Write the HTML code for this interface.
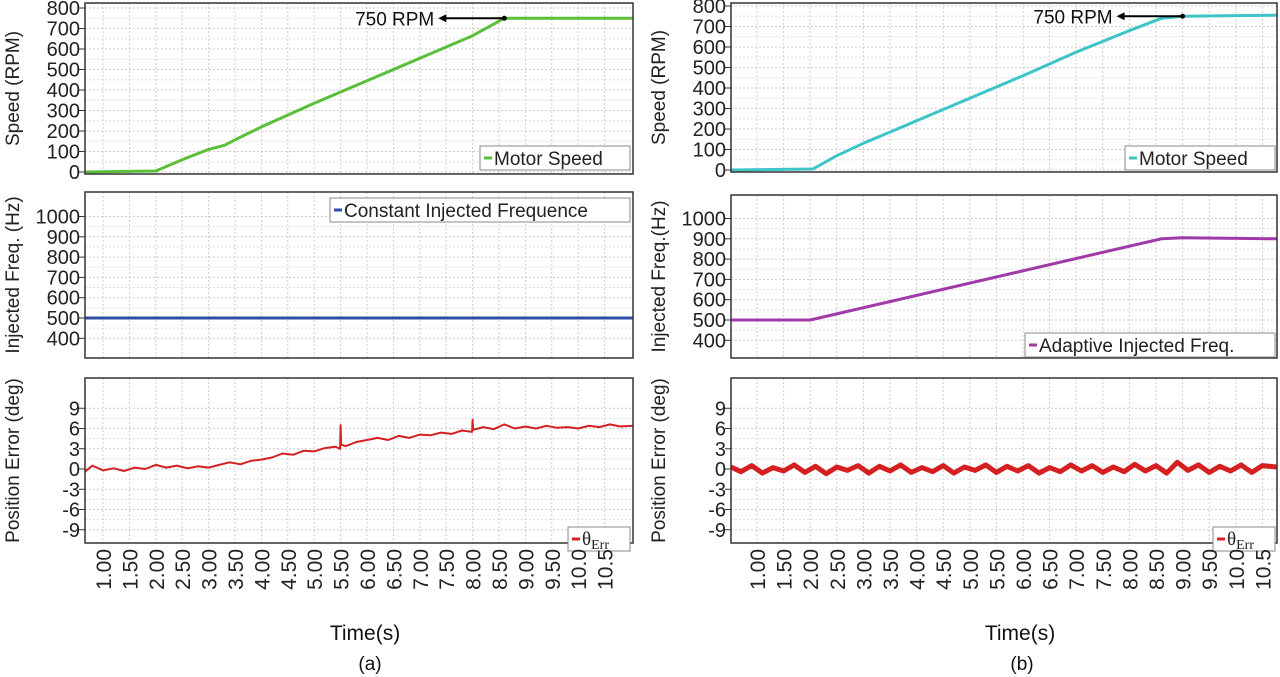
<!DOCTYPE html>
<html><head><meta charset="utf-8"><style>
body{margin:0;background:#fff;}
svg{display:block;font-family:"Liberation Sans",sans-serif;}
</style></head><body>
<svg id="c" width="1280" height="677" viewBox="0 0 1280 677"></svg>
<script>
const timeTicks=["1.00","1.50","2.00","2.50","3.00","3.50","4.00","4.50","5.00","5.50","6.00","6.50","7.00","7.50","8.00","8.50","9.00","9.50","10.0","10.5"];
const tickTimes=[1,1.5,2,2.5,3,3.5,4,4.5,5,5.5,6,6.5,7,7.5,8,8.5,9,9.5,10,10.5];
const speedTicks=[0,100,200,300,400,500,600,700,800];
const freqTicks=[400,500,600,700,800,900,1000];
const errTicks=[-9,-6,-3,0,3,6,9];
const speedA_t=[0.66,2.0,2.5,3.0,3.3,3.6,4.0,5.0,6.0,7.0,8.0,8.6,11.04];
const speedA_v=[0,5,60,110,130,170,220,335,445,555,665,750,750];
const speedB_t=[0.51,2.05,2.5,3.0,3.5,4.0,5.0,6.0,7.0,8.0,8.6,9.0,10.77];
const speedB_v=[0,5,70,130,185,240,350,460,575,680,740,750,755];
const freqA_t=[0.66,11.04];
const freqA_v=[500,500];
const freqB_t=[0.51,2.0,8.6,9.0,10.77];
const freqB_v=[500,500,900,905,900];
const errA_t=[0.66,0.8,1.0,1.2,1.4,1.6,1.8,2.0,2.2,2.4,2.6,2.8,3.0,3.2,3.4,3.6,3.8,4.0,4.2,4.4,4.6,4.8,5.0,5.2,5.4,5.49,5.5,5.51,5.6,5.8,6.0,6.2,6.4,6.6,6.8,7.0,7.2,7.4,7.6,7.8,7.99,8.0,8.01,8.2,8.4,8.6,8.8,9.0,9.2,9.4,9.6,9.8,10.0,10.2,10.4,10.6,10.8,11.04];
const errA_v=[-0.4,0.5,-0.2,0.1,-0.3,0.2,0,0.6,0.2,0.5,0.1,0.4,0.2,0.6,1.0,0.7,1.2,1.4,1.7,2.3,2.1,2.7,2.6,3.1,3.3,3.0,6.5,3.6,3.4,4.0,4.3,4.6,4.3,4.9,4.6,5.1,5.0,5.4,5.2,5.7,5.5,7.3,5.8,6.2,5.9,6.6,6.0,6.3,6.0,6.4,6.1,6.2,6.0,6.4,6.2,6.6,6.3,6.4];
const errB_t=[0.51,0.7,0.9,1.1,1.3,1.5,1.7,1.9,2.1,2.3,2.5,2.7,2.9,3.1,3.3,3.5,3.7,3.9,4.1,4.3,4.5,4.7,4.9,5.1,5.3,5.5,5.7,5.9,6.1,6.3,6.5,6.7,6.9,7.1,7.3,7.5,7.7,7.9,8.1,8.3,8.5,8.7,8.9,9.1,9.3,9.5,9.7,9.9,10.1,10.3,10.5,10.77];
const errB_v=[0.3,-0.4,0.5,-0.6,0.2,-0.3,0.6,-0.5,0.4,-0.7,0.3,-0.2,0.5,-0.6,0.4,-0.3,0.6,-0.5,0.2,-0.4,0.5,-0.6,0.3,-0.2,0.6,-0.5,0.4,-0.3,0.5,-0.6,0.2,-0.4,0.6,-0.3,0.5,-0.5,0.3,-0.4,0.7,-0.3,0.5,-0.6,1.0,-0.2,0.6,-0.5,0.4,-0.3,0.6,-0.5,0.5,0.3];

const S="http://www.w3.org/2000/svg";
const svg=document.getElementById('c');
function el(tag,attrs,parent,text){const e=document.createElementNS(S,tag);for(const k in attrs)e.setAttribute(k,attrs[k]);if(text!==undefined)e.textContent=text;(parent||svg).appendChild(e);return e;}

function panel(p){
  const g=el('g',{});
  
  
  const xs=t=>p.x0+(t-1)*p.xs;
  const ys=v=>p.ay+(v-p.av)*p.ys;
  for(const t of tickTimes){const x=xs(t);el('line',{x1:x,x2:x,y1:p.top,y2:p.bot,stroke:'#ccc','stroke-dasharray':'2,2','stroke-width':1},g);}
  for(let i=0;i<p.ticks.length;i++){const v=p.ticks[i];
    el('line',{x1:p.L,x2:p.R,y1:ys(v),y2:ys(v),stroke:'#ccc','stroke-dasharray':'2,2'},g);
    if(i<p.ticks.length-1){const m=(v+p.ticks[i+1])/2;el('line',{x1:p.L,x2:p.R,y1:ys(m),y2:ys(m),stroke:'#ddd','stroke-dasharray':'2,2'},g);}
    el('line',{x1:p.L-6,x2:p.L,y1:ys(v),y2:ys(v),stroke:'#333'},g);
    const tl=el('text',{x:p.L-5,y:ys(v)+7,'text-anchor':'end','font-size':20,fill:'#222'},g,String(v));
    
    
  }
  let d='';for(let i=0;i<p.t.length;i++)d+=(i?'L':'M')+xs(p.t[i]).toFixed(1)+','+ys(p.v[i]).toFixed(1);
  const ln=el('path',{d:d,fill:'none',stroke:p.color,'stroke-width':p.sw,'stroke-linejoin':'round'},g);
  
  
  el('rect',{x:p.L,y:p.top,width:p.R-p.L,height:p.bot-p.top,fill:'none',stroke:'#333','stroke-width':1.5},g);
  const yt=el('text',{x:0,y:0,'text-anchor':'middle','font-size':19,fill:'#222',transform:`translate(${p.L-66},${(p.top+p.bot)/2}) rotate(-90)`},g,p.ytitle);
  
  
  const lg=el('g',{},g);
  
  
  el('rect',{x:p.lx,y:p.ly,width:p.lw,height:24,fill:'#fff',stroke:'#888'},lg);
  el('line',{x1:p.lx+4,x2:p.lx+12,y1:p.ly+12,y2:p.ly+12,stroke:p.color,'stroke-width':3},lg);
  if(p.theta){const t=el('text',{x:p.lx+14,y:p.ly+18,'font-size':19,'font-family':'Liberation Serif, serif',fill:'#222'},lg,'θ');
    el('tspan',{'font-size':14,dy:4},t,'Err');}
  else el('text',{x:p.lx+14,y:p.ly+19,'font-size':19,fill:'#222'},lg,p.legend);
  if(p.xlabels){for(let i=0;i<tickTimes.length;i++){const x=xs(tickTimes[i]);
    const xl=el('text',{x:0,y:0,'text-anchor':'end','font-size':21,fill:'#222',transform:`translate(${x+8},${p.bot+6}) rotate(-90)`},g,timeTicks[i]);
    
    }}
  if(p.arrow){const a=p.arrow;const px=xs(a.t),py=ys(a.v);
    el('line',{x1:px,x2:px-60,y1:py,y2:py,stroke:'#000','stroke-width':2},g);
    el('path',{d:`M${px-66},${py}l8,-4v8z`,fill:'#000'},g);
    el('circle',{cx:px,cy:py,r:2.5,fill:'#000'},g);
    const at=el('text',{x:px-70,y:py+7,'text-anchor':'end','font-size':19,fill:'#111'},g,'750 RPM');
    
    }
}
const A={L:85,R:633,x0:103,xs:52.8},B={L:731,R:1277,x0:757,xs:53.2};
panel({...A,name:'speed-plot-a',top:3,bot:174,ay:172,av:0,ys:-0.205,ticks:speedTicks,t:speedA_t,v:speedA_v,color:'#5cbf3a',sw:3,series:'motor-speed-line',ytitle:'Speed (RPM)',lx:480,ly:146,lw:150,legend:'Motor Speed',arrow:{t:8.6,v:750}});
panel({...A,name:'freq-plot-a',top:192,bot:358,ay:318,av:500,ys:-0.203,ticks:freqTicks,t:freqA_t,v:freqA_v,color:'#2e4fa8',sw:3,series:'constant-freq-line',ytitle:'Injected Freq. (Hz)',lx:330,ly:198,lw:300,legend:'Constant Injected Frequence'});
panel({...A,name:'error-plot-a',top:378,bot:543,ay:469,av:0,ys:-6.75,ticks:errTicks,t:errA_t,v:errA_v,color:'#d42020',sw:2,series:'theta-err-line',ytitle:'Position Error (deg)',lx:568,ly:527,lw:62,theta:true,xlabels:true});
panel({...B,name:'speed-plot-b',top:3,bot:172,ay:170,av:0,ys:-0.205,ticks:speedTicks,t:speedB_t,v:speedB_v,color:'#3cc4c8',sw:3,series:'motor-speed-line',ytitle:'Speed (RPM)',lx:1125,ly:146,lw:150,legend:'Motor Speed',arrow:{t:9.0,v:750}});
panel({...B,name:'freq-plot-b',top:195,bot:358,ay:320,av:500,ys:-0.203,ticks:freqTicks,t:freqB_t,v:freqB_v,color:'#a03aa8',sw:3,series:'adaptive-freq-line',ytitle:'Injected Freq.(Hz)',lx:1025,ly:333,lw:250,legend:'Adaptive Injected Freq.'});
panel({...B,name:'error-plot-b',top:378,bot:543,ay:469,av:0,ys:-6.75,ticks:errTicks,t:errB_t,v:errB_v,color:'#d42020',sw:5,series:'theta-err-line',ytitle:'Position Error (deg)',lx:1213,ly:527,lw:62,theta:true,xlabels:true});
const labs=[[365,640,'Time(s)',21,'x-axis-title-a'],[1020,640,'Time(s)',21,'x-axis-title-b'],[370,670,'(a)',19,'caption-a'],[1022,670,'(b)',19,'caption-b']];
for(const l of labs){const t=el('text',{x:l[0],y:l[1],'text-anchor':'middle','font-size':l[3],fill:'#111'},svg,l[2]);
  
  }
</script>
</body></html>
